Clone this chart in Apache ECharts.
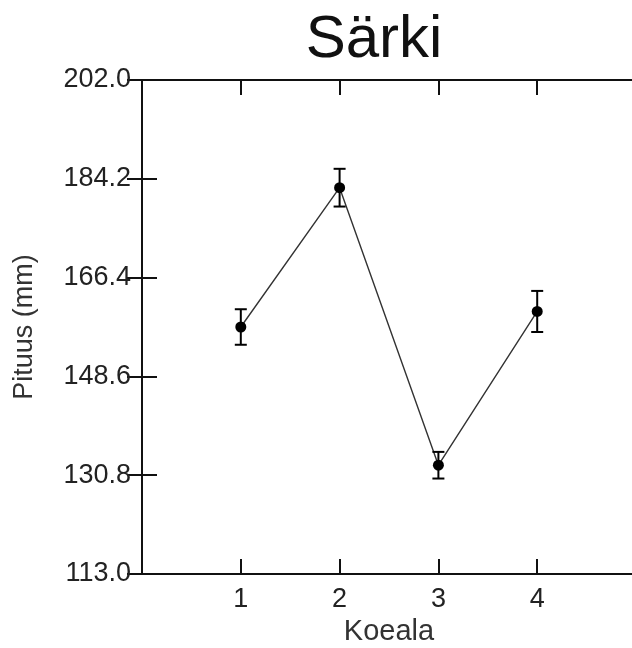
<!DOCTYPE html>
<html>
<head>
<meta charset="utf-8">
<script src="https://cdn.jsdelivr.net/npm/echarts@6/dist/echarts.min.js"></script>
<style>
  html, body { margin: 0; padding: 0; background: #fff; }
  #chart { width: 632px; height: 648px; }
</style>
</head>
<body>
<div id="chart"></div>
<script>
// Sampling areas (Koeala) and mean length with its error
const koeala = [1, 2, 3, 4];
const meanLength = [157.5, 182.6, 132.6, 160.3];
const errLength = [3.2, 3.4, 2.4, 3.7];
const yTicks = [113.0, 130.8, 148.6, 166.4, 184.2, 202.0];

const FONT = 'Liberation Sans, Arial, sans-serif';
const INK = '#111';

const points = koeala.map((k, i) => [k, meanLength[i]]);
const bars = koeala.map((k, i) => [k, meanLength[i] - errLength[i], meanLength[i] + errLength[i]]);

const chart = echarts.init(document.getElementById('chart'), null, { renderer: 'canvas' });

const axisLine = { show: true, lineStyle: { color: INK, width: 2 } };
const tickStyle = { color: INK, width: 2 };

chart.setOption({
  backgroundColor: '#fff',
  animation: false,
  title: {
    text: 'Särki',
    left: 369,
    textAlign: 'center',
    top: 5,
    textStyle: { fontFamily: FONT, fontSize: 60, fontWeight: 'normal', color: INK }
  },
  grid: {
    left: 142, top: 80, width: 494, height: 494,
    containLabel: false, outerBoundsMode: 'none'
  },
  xAxis: [
    {
      type: 'value', min: 0, max: 5, interval: 1, position: 'bottom',
      name: 'Koeala', nameLocation: 'middle', nameGap: 38,
      nameTextStyle: { fontFamily: FONT, fontSize: 29, color: '#333' },
      axisLine: axisLine,
      axisTick: { show: true, inside: true, length: 15, lineStyle: tickStyle },
      axisLabel: {
        fontFamily: FONT, fontSize: 27, color: '#222', margin: 12,
        formatter: v => (koeala.indexOf(v) >= 0 ? String(v) : '')
      },
      splitLine: { show: false }
    },
    {
      type: 'value', min: 0, max: 5, interval: 1, position: 'top',
      axisLine: axisLine,
      axisTick: { show: true, inside: true, length: 15, lineStyle: tickStyle },
      axisLabel: { show: false },
      splitLine: { show: false }
    }
  ],
  yAxis: [
    {
      type: 'value', min: yTicks[0], max: yTicks[yTicks.length - 1],
      interval: yTicks[1] - yTicks[0], position: 'left',
      name: 'Pituus (mm)', nameLocation: 'middle', nameGap: 104, nameRotate: 90,
      nameTextStyle: { fontFamily: FONT, fontSize: 27, color: '#333' },
      axisLine: axisLine,
      axisTick: { show: true, inside: true, length: 15, lineStyle: tickStyle },
      axisLabel: {
        fontFamily: FONT, fontSize: 27, color: '#222', margin: 11,
        formatter: v => Number(v).toFixed(1)
      },
      splitLine: { show: false }
    },
    {
      type: 'value', min: yTicks[0], max: yTicks[yTicks.length - 1],
      interval: yTicks[1] - yTicks[0], position: 'right',
      axisLine: axisLine,
      axisTick: { show: true, inside: true, length: 15, lineStyle: tickStyle },
      axisLabel: { show: false },
      splitLine: { show: false }
    }
  ],
  series: [
    {
      type: 'line',
      data: points,
      symbol: 'circle',
      symbolSize: 11,
      itemStyle: { color: '#000' },
      lineStyle: { color: '#333', width: 1.4 },
      z: 3
    },
    {
      type: 'custom',
      data: bars,
      z: 4,
      renderItem: function (params, api) {
        const x = api.value(0);
        const lo = api.coord([x, api.value(1)]);
        const hi = api.coord([x, api.value(2)]);
        const half = 6;
        const style = { stroke: '#000', lineWidth: 2 };
        return {
          type: 'group',
          children: [
            { type: 'line', shape: { x1: lo[0], y1: lo[1], x2: hi[0], y2: hi[1] }, style: style },
            { type: 'line', shape: { x1: hi[0] - half, y1: hi[1], x2: hi[0] + half, y2: hi[1] }, style: style },
            { type: 'line', shape: { x1: lo[0] - half, y1: lo[1], x2: lo[0] + half, y2: lo[1] }, style: style }
          ]
        };
      }
    }
  ]
});
</script>
</body>
</html>
